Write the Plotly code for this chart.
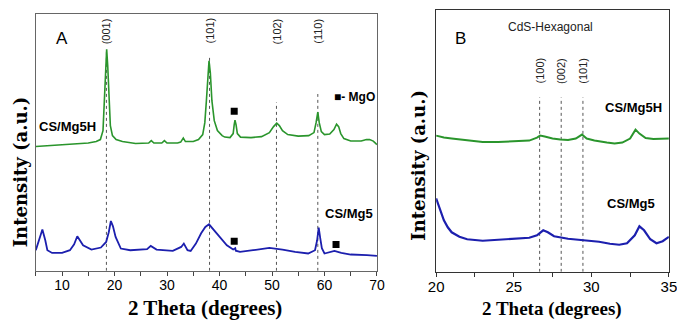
import plotly.graph_objects as go

# ---------------- Panel A data (2θ in degrees, intensity a.u.) ----------------
a_mg5h_theta = [5, 10, 15, 16.5, 17.3, 17.8, 18.05, 18.3, 18.5, 18.7, 18.95, 19.2, 19.6, 20.3, 21.5,
                24, 26.5, 27, 27.5, 29, 29.5, 30, 32, 32.6, 33.1, 33.5, 35, 36, 36.8, 37.2, 37.5,
                37.8, 38.0, 38.25, 38.55, 39, 39.6, 40.5, 41, 42, 42.6, 42.8, 42.95, 43.15, 43.4,
                44, 46, 48, 49.5, 50.3, 50.9, 51.4, 52, 53, 55, 57, 58.0, 58.4, 58.73, 59.0, 59.4,
                60, 61, 61.8, 62.3, 62.7, 63.1, 63.7, 65, 67, 68, 68.6, 69.3, 70]
a_mg5h_int = [124.7, 126.2, 128.2, 129.7, 131.7, 140.7, 170.7, 205.7, 222.2, 205.7, 170.7, 145.7,
              135.7, 131.7, 129.7, 127.7, 128.2, 130.7, 128.2, 128.2, 130.7, 128.2, 128.2, 129.2,
              133.2, 129.7, 129.7, 131.7, 136.7, 148.7, 170.7, 200.7, 210.7, 198.7, 170.7, 150.7,
              140.7, 135.7, 134.2, 133.7, 137.7, 146.7, 151.2, 146.7, 137.7, 134.2, 133.7, 134.7,
              138.7, 144.7, 148.2, 145.7, 140.7, 136.7, 135.2, 135.7, 138.7, 148.7, 159.2, 148.7,
              139.7, 136.7, 137.2, 141.7, 147.2, 144.7, 137.7, 132.7, 130.2, 130.2, 131.7, 131.7,
              130.2, 126.7]

a_mg5_theta = [5.0, 5.6, 6.25, 6.8, 7.2, 8.1, 10, 11.5, 12.3, 12.9, 13.4, 14.0, 15.6, 17.4, 18.4,
               18.9, 19.3, 19.7, 20.2, 21.2, 23, 26.2, 26.9, 28.0, 31.1, 32.7, 33.2, 33.9, 34.5,
               35.5, 36.5, 37.3, 38.0, 38.9, 40.1, 41.4, 42.6, 43.0, 43.1, 43.9, 46.4, 49.5, 52,
               54.4, 56.9, 58.2, 58.6, 58.9, 59.2, 59.5, 60.0, 61.0, 61.9, 63.2, 65, 68.1, 70]
a_mg5_int = [20.7, 30.7, 41.4, 30.7, 20.7, 18.0, 18.0, 20.7, 26.7, 34.7, 30.7, 25.7, 21.4, 23.4,
             29.0, 38.7, 50.0, 44.7, 34.0, 22.4, 20.7, 21.7, 25.0, 21.4, 20.0, 24.0, 27.4, 20.7,
             20.0, 27.4, 37.7, 44.0, 46.7, 41.4, 34.0, 25.7, 21.4, 22.7, 20.2, 19.0, 20.7, 23.0,
             21.4, 19.0, 17.4, 20.7, 30.7, 43.4, 32.7, 22.7, 17.4, 19.0, 20.0, 18.0, 16.4, 15.7,
             15.0]

a_planes = ["(001)", "(101)", "(102)", "(110)"]
a_plane_theta = [18.45, 38.1, 50.85, 58.73]
a_plane_top = [222.0, 215.7, 169.0, 177.4]

mgo_theta = [42.8, 42.8, 62.2]
mgo_int = [160.0, 29.7, 26.4]

# ---------------- Panel B data ----------------
b_mg5h_theta = [20.0, 20.5, 21, 22, 23, 24, 25, 26, 26.5, 26.7, 27.0, 27.5, 28, 28.5, 29.0, 29.4,
                29.7, 30.2, 31, 31.5, 32, 32.5, 32.85, 33.1, 33.5, 34, 35]
b_mg5h_int = [136.7, 134.7, 133.7, 131.7, 130.2, 130.2, 131.2, 131.7, 134.7, 136.7, 135.7, 133.7,
              132.7, 132.2, 133.7, 137.7, 133.7, 131.7, 129.7, 128.7, 129.7, 133.7, 142.7, 138.7,
              134.2, 133.2, 133.7]

b_mg5_theta = [20.0, 20.25, 20.5, 20.75, 21.0, 21.5, 22, 23, 24, 25, 26, 26.5, 26.9, 27.2, 27.6,
               28.5, 29.5, 30.5, 31.2, 31.8, 32.3, 32.8, 33.1, 33.4, 33.8, 34.2, 34.6, 35]
b_mg5_int = [73.7, 61.7, 51.7, 44.7, 39.7, 35.2, 32.7, 31.2, 32.2, 33.2, 34.2, 36.7, 41.7, 39.7,
             35.7, 33.2, 31.7, 30.2, 28.2, 27.2, 28.7, 36.7, 45.7, 41.7, 32.7, 28.7, 30.7, 35.2]

b_planes = ["(100)", "(002)", "(101)"]
b_plane_theta = [26.67, 28.06, 29.46]
b_plane_top = 175.0

GREEN = "#2a952c"
BLUE = "#1c1fae"
SANS = "Liberation Sans, Arial, sans-serif"
SERIF = "Liberation Serif, Times New Roman, serif"

# figure is placed 8px from the page corner by the default body margin
W, H, OFF = 677, 313, 8


def px(x):
    return (x - OFF) / W


def py(y):
    return 1 - (y - OFF) / H


fig = go.Figure()
fig.add_trace(go.Scatter(x=a_mg5h_theta, y=a_mg5h_int, mode="lines",
                         line=dict(color=GREEN, width=1.6), xaxis="x", yaxis="y"))
fig.add_trace(go.Scatter(x=a_mg5_theta, y=a_mg5_int, mode="lines",
                         line=dict(color=BLUE, width=1.8), xaxis="x", yaxis="y"))
fig.add_trace(go.Scatter(x=mgo_theta, y=mgo_int, mode="markers",
                         marker=dict(symbol="square", size=7, color="black"), xaxis="x", yaxis="y"))
fig.add_trace(go.Scatter(x=b_mg5h_theta, y=b_mg5h_int, mode="lines",
                         line=dict(color=GREEN, width=2), xaxis="x2", yaxis="y2"))
fig.add_trace(go.Scatter(x=b_mg5_theta, y=b_mg5_int, mode="lines",
                         line=dict(color=BLUE, width=2.2), xaxis="x2", yaxis="y2"))

shapes = []
for t, top in zip(a_plane_theta, a_plane_top):
    shapes.append(dict(type="line", xref="x", yref="y", x0=t, x1=t, y0=0, y1=top,
                       line=dict(color="#555", width=1, dash="dot"), layer="below"))
for t in b_plane_theta:
    shapes.append(dict(type="line", xref="x2", yref="y2", x0=t, x1=t, y0=0, y1=b_plane_top,
                       line=dict(color="#555", width=1, dash="dot"), layer="below"))


def note(x, y, text, xref, yref, size, family=SANS, color="black", angle=0, xanchor="center"):
    return dict(x=x, y=y, xref=xref, yref=yref, text=text, textangle=angle, showarrow=False,
                xanchor=xanchor, yanchor="middle", font=dict(family=family, size=size, color=color))


ann = []
for lab, t in zip(a_planes, a_plane_theta):
    ann.append(note(t, 240.7, lab, "x", "y", 11, color="#222", angle=-90))
for lab, t in zip(b_planes, b_plane_theta):
    ann.append(note(t, 201.7, lab, "x2", "y2", 11, color="#222", angle=-90))

ann += [
    note(9.98, 233.4, "A", "x", "y", 17),
    note(5.2, 144.7, "<b>CS/Mg5H</b>", "x", "y", 13, xanchor="left"),
    note(64.7, 57.7, "<b>CS/Mg5</b>", "x", "y", 13),
    note(61.4, 174.7, "<b>■- MgO</b>", "x", "y", 12, xanchor="left"),
    note(21.57, 234.4, "B", "x2", "y2", 17),
    note(27.4, 245.7, "CdS-Hexagonal", "x2", "y2", 12, color="#222"),
    note(32.72, 165.0, "<b>CS/Mg5H</b>", "x2", "y2", 13),
    note(32.54, 68.4, "<b>CS/Mg5</b>", "x2", "y2", 13),
    note(px(201.5), py(308), "<b>2 Theta (degrees)</b>", "paper", "paper", 21, family=SERIF),
    note(px(556.6), py(309), "<b>2 Theta (degrees)</b>", "paper", "paper", 19, family=SERIF),
    note(px(13), py(171), "<b>Intensity (a.u.)</b>", "paper", "paper", 18,
         family="DejaVu Serif, serif", angle=-90),
    note(px(420), py(165), "<b>Intensity (a.u.)</b>", "paper", "paper", 18,
         family="DejaVu Serif, serif", angle=-90),
]

fig.update_layout(
    width=W, height=H,
    margin=dict(l=0, r=0, t=0, b=0),
    paper_bgcolor="white", plot_bgcolor="white",
    showlegend=False,
    shapes=shapes, annotations=ann,
    xaxis=dict(domain=[px(28.3), px(377.7)], range=[5, 70], tickvals=[10, 20, 30, 40, 50, 60, 70],
               ticks="outside", ticklen=4, tickcolor="#444", showline=True, linecolor="#666",
               linewidth=1.2, mirror=True, showgrid=False, zeroline=False, ticklabelstandoff=-3,
               minor=dict(dtick=5, tick0=5, ticks="outside", ticklen=4, tickcolor="#444"),
               tickfont=dict(family=SANS, size=14, color="black"), anchor="y"),
    yaxis=dict(domain=[py(270.7), py(13)], range=[0, 257.7], showticklabels=False,
               ticks="", showline=True, linecolor="#666", linewidth=1.2, mirror=True,
               showgrid=False, zeroline=False, anchor="x"),
    xaxis2=dict(domain=[px(438.3), px(676.7)], range=[20, 35], tickvals=[20, 25, 30, 35],
                ticks="outside", ticklen=4, tickcolor="#333", showline=True, linecolor="#333",
                linewidth=1.2, mirror=True, showgrid=False, zeroline=False, ticklabelstandoff=-3,
                minor=dict(dtick=2.5, tick0=20, ticks="outside", ticklen=4, tickcolor="#333"),
                tickfont=dict(family=SANS, size=15, color="black"), anchor="y2"),
    yaxis2=dict(domain=[py(271.7), 1 - 0.7 / H], range=[0, 270 - 7.0], showticklabels=False,
                ticks="", showline=True, linecolor="#333", linewidth=1.2, mirror=True,
                showgrid=False, zeroline=False, anchor="x2"),
)

fig.write_html("out.html")
